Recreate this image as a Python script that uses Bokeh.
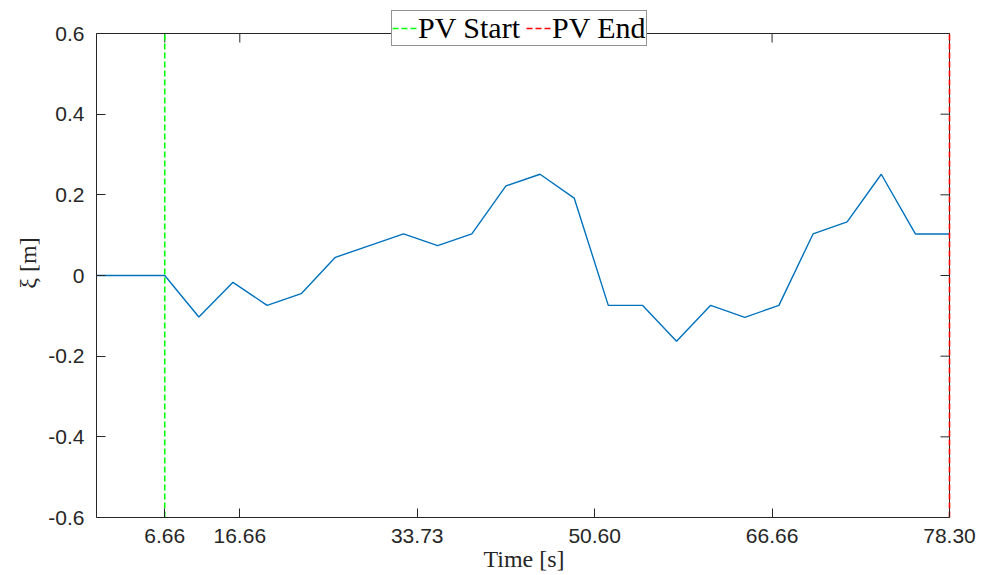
from bokeh.plotting import figure
from bokeh.models import FixedTicker, LinearAxis, Range1d, Legend, LegendItem
from bokeh.embed import file_html
from bokeh.resources import INLINE

# Sample index of each recorded value and the displacement xi [m]
sample_idx = list(range(26))
xi = [0.0, 0.0, 0.0, -0.103, -0.017, -0.074, -0.045, 0.045, 0.074, 0.103,
      0.074, 0.103, 0.222, 0.251, 0.192, -0.074, -0.074, -0.163, -0.074,
      -0.104, -0.074, 0.103, 0.133, 0.251, 0.103, 0.103]

# Time axis ticks (sample positions) and their labels in seconds
time_tick_pos = [2, 4.2, 9.4, 14.6, 19.8, 25]
time_tick_labels = ["6.66", "16.66", "33.73", "50.60", "66.66", "78.30"]

# Displacement axis ticks
xi_ticks = [-0.6, -0.4, -0.2, 0.0, 0.2, 0.4, 0.6]
xi_tick_labels = ["-0.6", "-0.4", "-0.2", "0", "0.2", "0.4", "0.6"]

# Photovoltaic window markers (sample index)
pv_start_idx = 2
pv_end_idx = 25

AX = "#262626"
SANS = "Liberation Sans"
SERIF = "Liberation Serif"

# Geometry of the plotting area (pixels)
W, H = 981, 575
BORDER_L, BORDER_R, BORDER_T, BORDER_B = 96, 30, 8, 58
BOX_RIGHT_GAP = 2     # px between box's right edge and the frame edge
BOX_TOP_GAP = 25      # px between box's top edge and the frame top
TICK_LEN = 9

x0, x1 = sample_idx[0], sample_idx[-1]
y0, y1 = xi_ticks[0], xi_ticks[-1]
frame_w = W - BORDER_L - BORDER_R
frame_h = H - BORDER_T - BORDER_B
# px per data unit inside the box
sx = (frame_w - BOX_RIGHT_GAP) / (x1 - x0)
sy = (frame_h - BOX_TOP_GAP) / (y1 - y0)

p = figure(width=W, height=H, output_backend="svg", toolbar_location=None,
           x_range=Range1d(x0, x1 + BOX_RIGHT_GAP / sx),
           y_range=Range1d(y0, y1 + BOX_TOP_GAP / sy),
           min_border_left=BORDER_L, min_border_right=BORDER_R,
           min_border_top=BORDER_T, min_border_bottom=BORDER_B,
           x_axis_location=None, y_axis_location=None)
p.xgrid.visible = False
p.ygrid.visible = False
p.outline_line_color = None
p.background_fill_color = "white"
p.border_fill_color = "white"


def style_axis(ax):
    ax.axis_line_color = AX
    ax.axis_line_width = 1
    ax.major_tick_line_color = AX
    ax.major_tick_in = TICK_LEN
    ax.major_tick_out = 0
    ax.minor_tick_line_color = None
    ax.major_label_text_color = AX
    ax.major_label_text_font = SANS
    ax.major_label_text_font_size = "21px"
    ax.axis_label_text_font = SERIF
    ax.axis_label_text_font_style = "normal"
    ax.axis_label_text_font_size = "24px"
    ax.axis_label_text_color = AX


xb = LinearAxis(ticker=FixedTicker(ticks=time_tick_pos),
                major_label_overrides=dict(zip(time_tick_pos, time_tick_labels)),
                axis_label="Time [s]", bounds=(x0, x1))
style_axis(xb)
xb.major_label_standoff = 11
xb.axis_label_standoff = 0
p.add_layout(xb, "below")

yl = LinearAxis(ticker=FixedTicker(ticks=xi_ticks),
                major_label_overrides=dict(zip(xi_ticks, xi_tick_labels)),
                axis_label="ξ [m]", bounds=(y0, y1))
style_axis(yl)
yl.major_label_standoff = 12
yl.axis_label_standoff = 4
p.add_layout(yl, "left")

# Box: top and right edges with inward ticks
p.line([x0, x1], [y1, y1], line_color=AX, line_width=1)
p.line([x1, x1], [y0, y1], line_color=AX, line_width=1)
p.segment(x0=time_tick_pos, y0=[y1] * len(time_tick_pos),
          x1=time_tick_pos, y1=[y1 - TICK_LEN / sy] * len(time_tick_pos),
          line_color=AX, line_width=1)
p.segment(x0=[x1] * len(xi_ticks), y0=xi_ticks,
          x1=[x1 - TICK_LEN / sx] * len(xi_ticks), y1=xi_ticks,
          line_color=AX, line_width=1)

# Displacement trace
p.line(sample_idx, xi, line_color="#0072BD", line_width=1.4)

# PV window markers
r_start = p.line([pv_start_idx, pv_start_idx], [y0, y1],
                 line_color="#00FF00", line_width=1.6, line_dash="6 3")
r_end = p.line([pv_end_idx, pv_end_idx], [y0, y1],
               line_color="#FF0000", line_width=1.6, line_dash="6 3")

legend = Legend(items=[LegendItem(label="PV Start", renderers=[r_start]),
                       LegendItem(label="PV End", renderers=[r_end])],
                orientation="horizontal", location=(295, 471))
legend.label_text_font = SERIF
legend.label_text_font_size = "30px"
legend.label_text_color = "black"
legend.label_standoff = 1
legend.label_height = 26
legend.glyph_width = 25
legend.glyph_height = 26
legend.spacing = 6
legend.padding = 0
legend.margin = 0
legend.border_line_color = AX
legend.border_line_width = 1
legend.background_fill_color = "white"
legend.background_fill_alpha = 1
p.add_layout(legend, "center")

open("out.html", "w").write(file_html(p, INLINE))
